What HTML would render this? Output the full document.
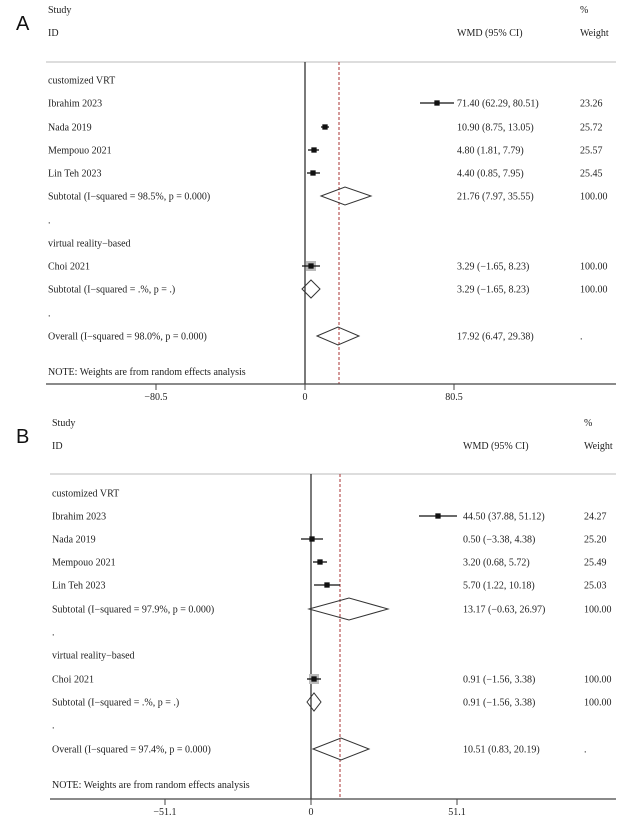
<!DOCTYPE html>
<html><head><meta charset="utf-8"><style>
body{margin:0;background:#fff;}
svg{display:block;}
text{font-family:"Liberation Serif",serif;font-size:10px;fill:#222;}
.big{font-family:"Liberation Sans",sans-serif;font-size:20px;fill:#111;}
</style></head><body>
<svg width="623" height="826" viewBox="0 0 623 826" xmlns="http://www.w3.org/2000/svg">
<!-- Panel A -->
<text class="big" x="16" y="30">A</text>
<text x="48" y="13">Study</text>
<text x="48" y="36">ID</text>
<text x="457" y="36">WMD (95% CI)</text>
<text x="580" y="13">%</text>
<text x="580" y="36">Weight</text>
<line x1="46" y1="62" x2="616" y2="62" stroke="#bbb" stroke-width="1"/>
<line x1="305" y1="62" x2="305" y2="384" stroke="#222" stroke-width="1.2"/>
<line x1="339" y1="62" x2="339" y2="384" stroke="#a33" stroke-width="1" stroke-dasharray="3,2"/>
<text x="48" y="83.5">customized VRT</text>
<text x="48" y="106.5">Ibrahim 2023</text>
<text x="48" y="130.5">Nada 2019</text>
<text x="48" y="153.5">Mempouo 2021</text>
<text x="48" y="176.5">Lin Teh 2023</text>
<text x="48" y="199.5">Subtotal  (I−squared = 98.5%, p = 0.000)</text>
<text x="48" y="223.5">.</text>
<text x="48" y="246.5">virtual reality−based</text>
<text x="48" y="269.5">Choi 2021</text>
<text x="48" y="292.5">Subtotal  (I−squared = .%, p = .)</text>
<text x="48" y="316.5">.</text>
<text x="48" y="339.5">Overall  (I−squared = 98.0%, p = 0.000)</text>
<text x="48" y="375">NOTE: Weights are from random effects analysis</text>

<text x="457" y="106.5">71.40 (62.29, 80.51)</text>
<text x="457" y="130.5">10.90 (8.75, 13.05)</text>
<text x="457" y="153.5">4.80 (1.81, 7.79)</text>
<text x="457" y="176.5">4.40 (0.85, 7.95)</text>
<text x="457" y="199.5">21.76 (7.97, 35.55)</text>
<text x="457" y="269.5">3.29 (−1.65, 8.23)</text>
<text x="457" y="292.5">3.29 (−1.65, 8.23)</text>
<text x="457" y="339.5">17.92 (6.47, 29.38)</text>
<text x="580" y="106.5">23.26</text>
<text x="580" y="130.5">25.72</text>
<text x="580" y="153.5">25.57</text>
<text x="580" y="176.5">25.45</text>
<text x="580" y="199.5">100.00</text>
<text x="580" y="269.5">100.00</text>
<text x="580" y="292.5">100.00</text>
<text x="580" y="339.5">.</text>

<g stroke="#111" stroke-width="1.3" fill="#111">
<line x1="420" y1="103" x2="454" y2="103"/><rect x="435" y="101" width="4" height="4"/>
<line x1="321" y1="127" x2="329" y2="127"/><rect x="323" y="125" width="4" height="4"/>
<line x1="308" y1="150" x2="319" y2="150"/><rect x="312" y="148" width="4" height="4"/>
<line x1="307" y1="173" x2="320" y2="173"/><rect x="311" y="171" width="4" height="4"/>
</g>
<rect x="306" y="261" width="10" height="10" fill="#bbb"/>
<g stroke="#111" stroke-width="1.3" fill="#111">
<line x1="302" y1="266" x2="320" y2="266"/><rect x="309" y="264" width="4" height="4"/>
</g>
<g stroke="#333" stroke-width="1" fill="none">
<polygon points="321,196 345,187 371,196 345,205"/>
<polygon points="302,289 311,280 320,289 311,298"/>
<polygon points="317,336 338,327 359,336 338,345"/>
</g>
<line x1="46" y1="384" x2="616" y2="384" stroke="#444" stroke-width="1.3"/>
<g stroke="#444" stroke-width="1"><line x1="156" y1="384" x2="156" y2="390"/><line x1="305" y1="384" x2="305" y2="390"/><line x1="454" y1="384" x2="454" y2="390"/></g>
<text x="156" y="400" text-anchor="middle">−80.5</text>
<text x="305" y="400" text-anchor="middle">0</text>
<text x="454" y="400" text-anchor="middle">80.5</text>

<!-- Panel B -->
<text class="big" x="16" y="443">B</text>
<text x="52" y="426">Study</text>
<text x="52" y="449">ID</text>
<text x="463" y="449">WMD (95% CI)</text>
<text x="584" y="426">%</text>
<text x="584" y="449">Weight</text>
<line x1="50" y1="474" x2="616" y2="474" stroke="#bbb" stroke-width="1"/>
<line x1="311" y1="474" x2="311" y2="799" stroke="#222" stroke-width="1.2"/>
<line x1="340" y1="474" x2="340" y2="799" stroke="#a33" stroke-width="1" stroke-dasharray="3,2"/>
<text x="52" y="496.5">customized VRT</text>
<text x="52" y="519.5">Ibrahim 2023</text>
<text x="52" y="542.5">Nada 2019</text>
<text x="52" y="565.5">Mempouo 2021</text>
<text x="52" y="588.5">Lin Teh 2023</text>
<text x="52" y="612.5">Subtotal  (I−squared = 97.9%, p = 0.000)</text>
<text x="52" y="635.5">.</text>
<text x="52" y="658.5">virtual reality−based</text>
<text x="52" y="682.5">Choi 2021</text>
<text x="52" y="705.5">Subtotal  (I−squared = .%, p = .)</text>
<text x="52" y="728.5">.</text>
<text x="52" y="752.5">Overall  (I−squared = 97.4%, p = 0.000)</text>
<text x="52" y="788">NOTE: Weights are from random effects analysis</text>

<text x="463" y="519.5">44.50 (37.88, 51.12)</text>
<text x="463" y="542.5">0.50 (−3.38, 4.38)</text>
<text x="463" y="565.5">3.20 (0.68, 5.72)</text>
<text x="463" y="588.5">5.70 (1.22, 10.18)</text>
<text x="463" y="612.5">13.17 (−0.63, 26.97)</text>
<text x="463" y="682.5">0.91 (−1.56, 3.38)</text>
<text x="463" y="705.5">0.91 (−1.56, 3.38)</text>
<text x="463" y="752.5">10.51 (0.83, 20.19)</text>
<text x="584" y="519.5">24.27</text>
<text x="584" y="542.5">25.20</text>
<text x="584" y="565.5">25.49</text>
<text x="584" y="588.5">25.03</text>
<text x="584" y="612.5">100.00</text>
<text x="584" y="682.5">100.00</text>
<text x="584" y="705.5">100.00</text>
<text x="584" y="752.5">.</text>

<g stroke="#111" stroke-width="1.3" fill="#111">
<line x1="419" y1="516" x2="457" y2="516"/><rect x="436" y="514" width="4" height="4"/>
<line x1="301" y1="539" x2="323" y2="539"/><rect x="310" y="537" width="4" height="4"/>
<line x1="313" y1="562" x2="327" y2="562"/><rect x="318" y="560" width="4" height="4"/>
<line x1="314" y1="585" x2="340" y2="585"/><rect x="325" y="583" width="4" height="4"/>
</g>
<rect x="309" y="674" width="10" height="10" fill="#bbb"/>
<g stroke="#111" stroke-width="1.3" fill="#111">
<line x1="307" y1="679" x2="321" y2="679"/><rect x="312" y="677" width="4" height="4"/>
</g>
<g stroke="#333" stroke-width="1" fill="none">
<polygon points="309,609 349,598 388,609 349,620"/>
<polygon points="307,702 314,693 321,702 314,711"/>
<polygon points="313,749 341,738 369,749 341,760"/>
</g>
<line x1="50" y1="799" x2="616" y2="799" stroke="#444" stroke-width="1.3"/>
<g stroke="#444" stroke-width="1"><line x1="165" y1="799" x2="165" y2="805"/><line x1="311" y1="799" x2="311" y2="805"/><line x1="457" y1="799" x2="457" y2="805"/></g>
<text x="165" y="815" text-anchor="middle">−51.1</text>
<text x="311" y="815" text-anchor="middle">0</text>
<text x="457" y="815" text-anchor="middle">51.1</text>
</svg>
</body></html>
